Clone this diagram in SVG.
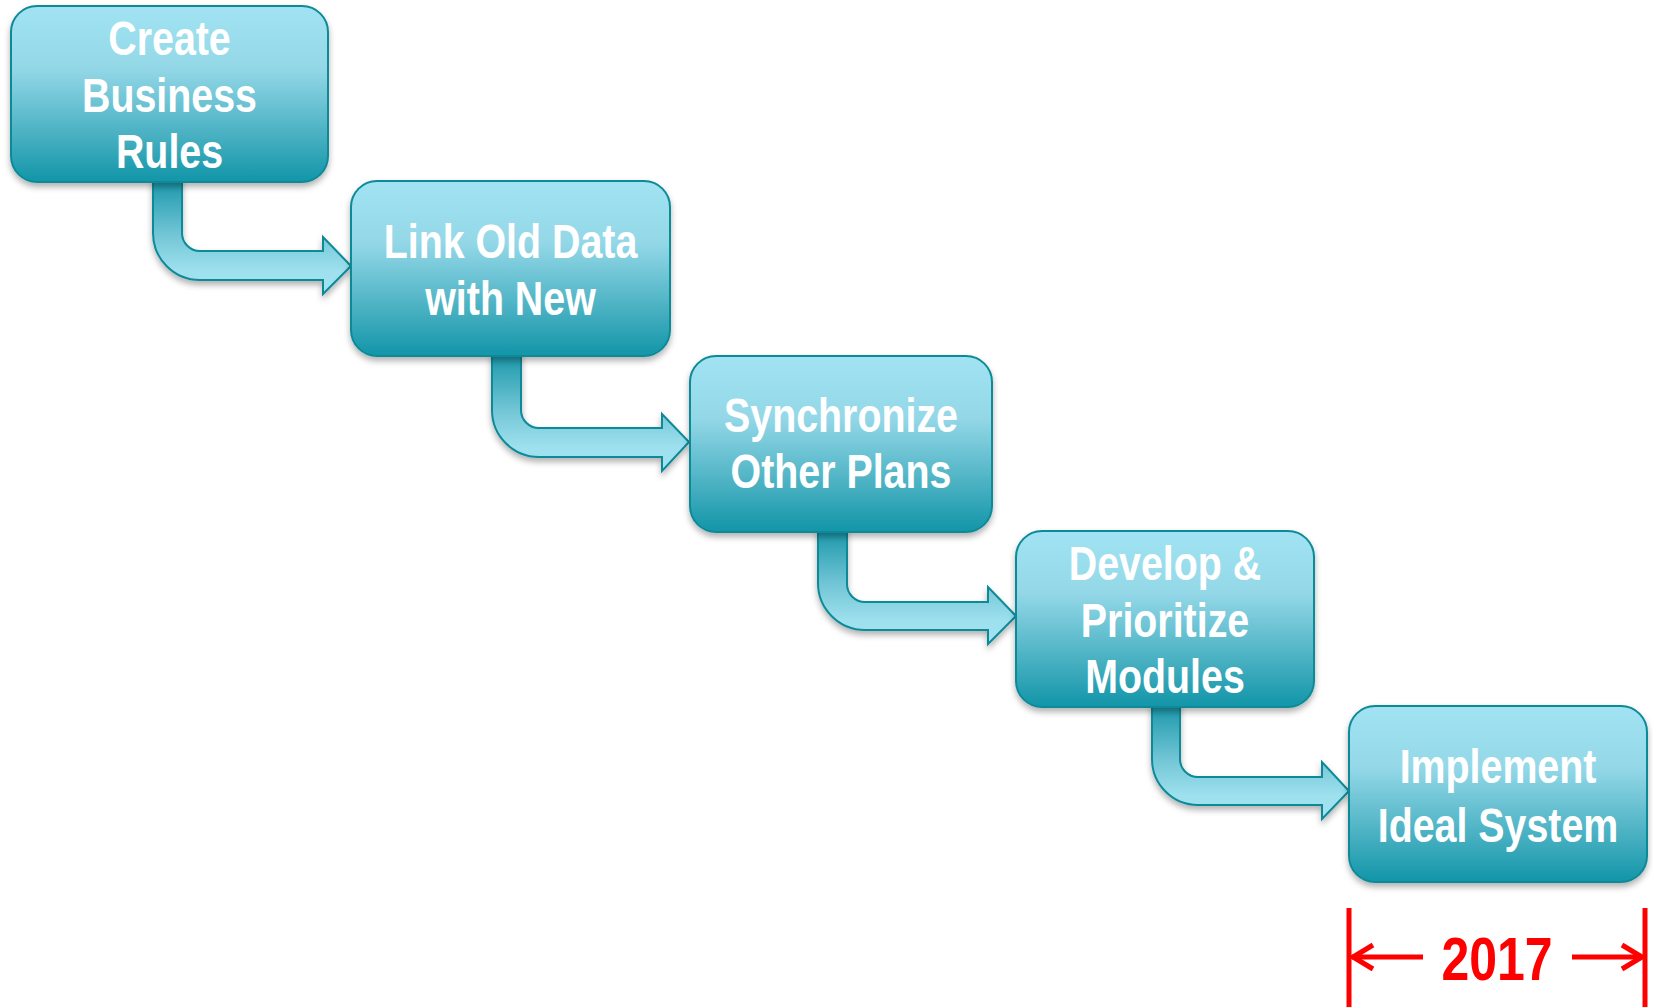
<svg xmlns="http://www.w3.org/2000/svg" width="1653" height="1007" viewBox="0 0 1653 1007">
<defs>
<linearGradient id="boxGrad" x1="0" y1="0" x2="0" y2="1">
<stop offset="0" stop-color="#a1e3f2"/>
<stop offset="0.35" stop-color="#94d8e8"/>
<stop offset="0.7" stop-color="#4fb4c5"/>
<stop offset="1" stop-color="#1295a8"/>
</linearGradient>
<linearGradient id="connGrad" x1="0" y1="0" x2="0" y2="1">
<stop offset="0" stop-color="#1795a8"/>
<stop offset="0.5" stop-color="#74c7d7"/>
<stop offset="0.8" stop-color="#9ee0ee"/>
<stop offset="1" stop-color="#a2e3f1"/>
</linearGradient>
<filter id="shadow" x="-10%" y="-10%" width="120%" height="130%">
<feDropShadow dx="0" dy="4" stdDeviation="3" flood-color="#000" flood-opacity="0.3"/>
</filter>
</defs>
<style>
.box { fill: url(#boxGrad); stroke: #0d8a98; stroke-width: 2; filter: url(#shadow); }
.conn { fill: url(#connGrad); stroke: #0d8a98; stroke-width: 2; stroke-linejoin: miter; filter: url(#shadow); }
.lbl { font-family: "Liberation Sans", Arial, sans-serif; font-weight: bold; font-size: 48px; fill: #ffffff; text-anchor: middle; }
.red { stroke: #ff0000; stroke-width: 5; fill: none; }
.year { font-family: "Liberation Sans", Arial, sans-serif; font-weight: bold; font-size: 61px; fill: #ff0000; text-anchor: middle; }
</style>
<g id="connectors">
<path class="conn" d="M182,178 V233 A18,18 0 0 0 200,251 H323 V237 L351,266 L323,294 V280 H200 A47,47 0 0 1 153,233 V178 Z"/>
<path class="conn" d="M521,352 V410 A18,18 0 0 0 539,428 H662 V414 L689,442 L662,471 V457 H539 A47,47 0 0 1 492,410 V352 Z"/>
<path class="conn" d="M847,528 V584 A18,18 0 0 0 865,602 H988 V587 L1016,616 L988,644 V630 H865 A47,47 0 0 1 818,583 V528 Z"/>
<path class="conn" d="M1180,703 V759 A18,18 0 0 0 1198,777 H1322 V762 L1349,791 L1322,819 V805 H1198 A46,46 0 0 1 1152,759 V703 Z"/>
</g>
<g id="node1">
<rect class="box" x="11" y="6" width="317" height="176" rx="26" ry="26"/>
<g transform="translate(169.5,0) scale(0.82,1)">
<text class="lbl" x="0" y="55">Create</text>
<text class="lbl" x="0" y="112">Business</text>
<text class="lbl" x="0" y="168">Rules</text>
</g>
</g>
<g id="node2">
<rect class="box" x="351" y="181" width="319" height="175" rx="26" ry="26"/>
<g transform="translate(510.5,0) scale(0.82,1)">
<text class="lbl" x="0" y="258">Link Old Data</text>
<text class="lbl" x="0" y="315">with New</text>
</g>
</g>
<g id="node3">
<rect class="box" x="690" y="356" width="302" height="176" rx="26" ry="26"/>
<g transform="translate(841,0) scale(0.82,1)">
<text class="lbl" x="0" y="432">Synchronize</text>
<text class="lbl" x="0" y="488">Other Plans</text>
</g>
</g>
<g id="node4">
<rect class="box" x="1016" y="531" width="298" height="176" rx="26" ry="26"/>
<g transform="translate(1165,0) scale(0.82,1)">
<text class="lbl" x="0" y="580">Develop &amp;</text>
<text class="lbl" x="0" y="637">Prioritize</text>
<text class="lbl" x="0" y="693">Modules</text>
</g>
</g>
<g id="node5">
<rect class="box" x="1349" y="706" width="298" height="176" rx="26" ry="26"/>
<g transform="translate(1498,0) scale(0.82,1)">
<text class="lbl" x="0" y="783">Implement</text>
<text class="lbl" x="0" y="842">Ideal System</text>
</g>
</g>
<g id="timespan">
<line class="red" x1="1349" y1="908" x2="1349" y2="1007"/>
<line class="red" x1="1645" y1="908" x2="1645" y2="1007"/>
<line class="red" x1="1352" y1="957" x2="1423" y2="957"/>
<polyline class="red" points="1373,945 1353,957 1373,969"/>
<line class="red" x1="1572" y1="957" x2="1642" y2="957"/>
<polyline class="red" points="1622,945 1642,957 1622,969"/>
<g transform="translate(1497,0) scale(0.82,1)">
<text class="year" x="0" y="980">2017</text>
</g>
</g>
</svg>
